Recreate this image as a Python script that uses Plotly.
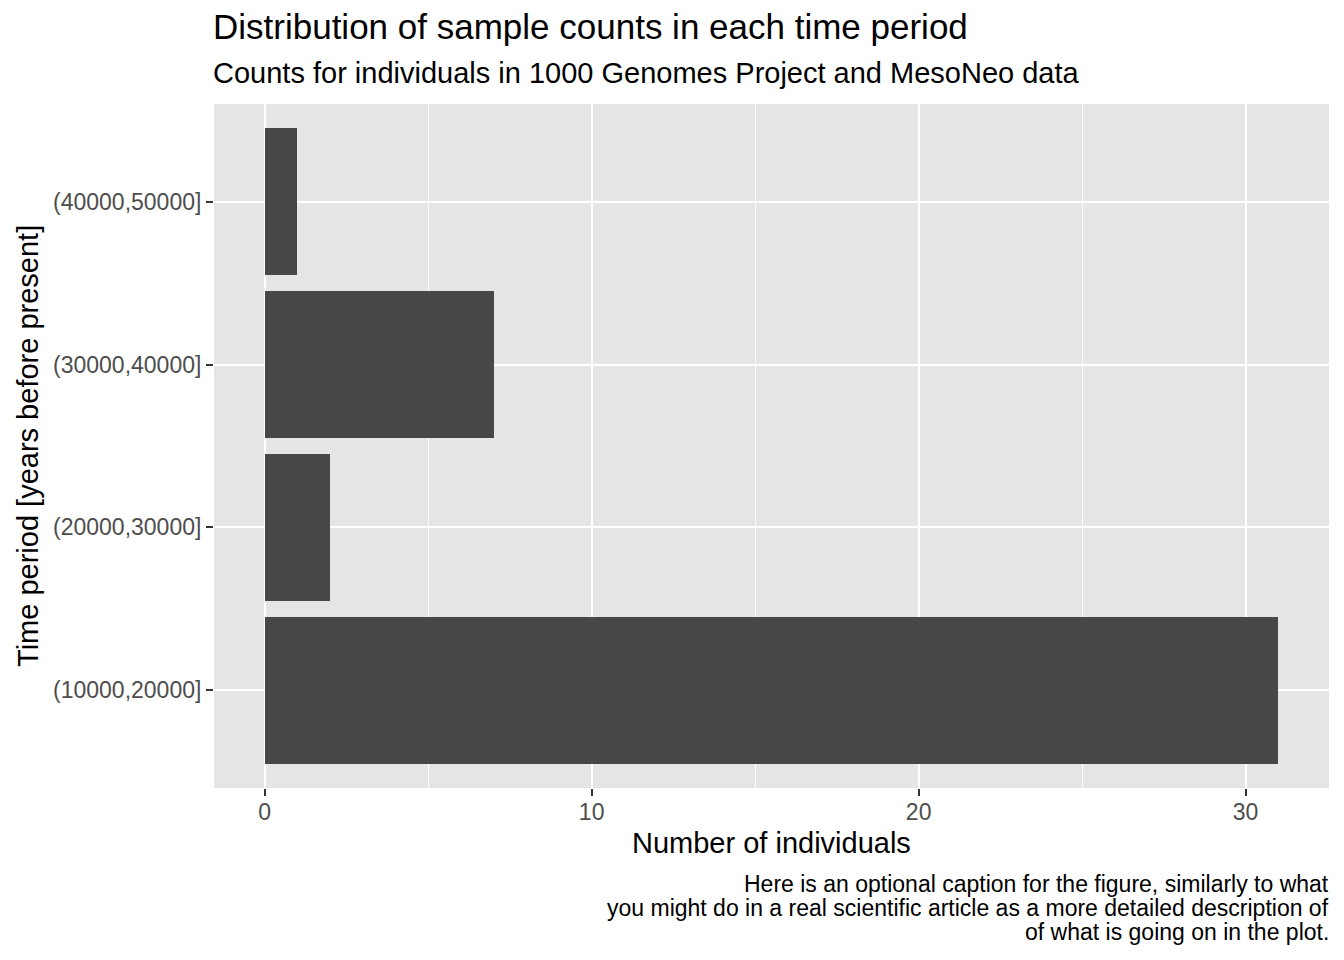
import plotly.graph_objects as go

categories = ["(10000,20000]", "(20000,30000]", "(30000,40000]", "(40000,50000]"]
counts = [31, 2, 7, 1]
x_ticks = [0, 10, 20, 30]
x_minor = [5, 15, 25]

title = "Distribution of sample counts in each time period"
subtitle = "Counts for individuals in 1000 Genomes Project and MesoNeo data"
caption_lines = [
    "Here is an optional caption for the figure, similarly to what",
    "you might do in a real scientific article as a more detailed description of",
    "of what is going on in the plot.",
]
x_title = "Number of individuals"
y_title = "Time period [years before present]"

FONT = "Liberation Sans, Arial, Helvetica, sans-serif"

# page body has an 8px margin; plot area in page px: x 214..1329, y 104..788
PL, PR, PT, PB = 214, 1329, 104, 788


def px_x(x):
    return (x - PL) / (PR - PL)


def px_y(y):
    return (PB - y) / (PB - PT)


fig = go.Figure()
fig.add_trace(go.Bar(
    x=counts, y=list(range(1, len(categories) + 1)), orientation="h",
    width=0.9, marker=dict(color="#474747", line=dict(width=0)),
    hoverinfo="x+y",
))

xmax = max(counts)
fig.update_layout(
    width=1336, height=952,
    margin=dict(l=206, r=15, t=96, b=172),
    paper_bgcolor="white", plot_bgcolor="#e5e5e5",
    font=dict(family=FONT, color="black"),
    showlegend=False,
    bargap=0,
    xaxis=dict(
        range=[-0.05 * xmax, xmax * 1.05], tickvals=x_ticks,
        ticktext=[str(v) for v in x_ticks],
        showgrid=True, gridcolor="white", gridwidth=2,
        minor=dict(tickvals=x_minor, showgrid=True, gridcolor="white", gridwidth=1, ticks=""),
        ticks="outside", ticklen=7, tickwidth=2, tickcolor="#333333",
        tickfont=dict(size=23, color="#4d4d4d", family=FONT),
        ticklabelstandoff=-4,
        zeroline=False, showline=False,
    ),
    yaxis=dict(
        range=[0.4, len(categories) + 0.6],
        tickvals=list(range(1, len(categories) + 1)), ticktext=categories,
        showgrid=True, gridcolor="white", gridwidth=2,
        ticks="outside", ticklen=7, tickwidth=2, tickcolor="#333333",
        tickfont=dict(size=23, color="#4d4d4d", family=FONT),
        zeroline=False, showline=False,
    ),
)

fig.add_annotation(text=title, xref="paper", yref="paper", x=0, y=px_y(27),
                   xanchor="left", yanchor="middle", showarrow=False, xshift=-3,
                   font=dict(size=35, family=FONT, color="black"))
fig.add_annotation(text=subtitle, xref="paper", yref="paper", x=0, y=px_y(72.5),
                   xanchor="left", yanchor="middle", showarrow=False, xshift=-3,
                   font=dict(size=29, family=FONT, color="black"))
fig.add_annotation(text=x_title, xref="paper", yref="paper", x=0.5, y=px_y(843),
                   xanchor="center", yanchor="middle", showarrow=False,
                   font=dict(size=29, family=FONT, color="black"))
fig.add_annotation(text=y_title, xref="paper", yref="paper", x=px_x(28), y=0.5,
                   xanchor="center", yanchor="middle", showarrow=False, textangle=-90,
                   font=dict(size=29, family=FONT, color="black"))
for line, yc in zip(caption_lines, [884, 908, 932]):
    fig.add_annotation(text=line, xref="paper", yref="paper", x=1, y=px_y(yc),
                       xanchor="right", yanchor="middle", showarrow=False, xshift=2,
                       font=dict(size=23, family=FONT, color="black"))

fig.write_html("out.html")
